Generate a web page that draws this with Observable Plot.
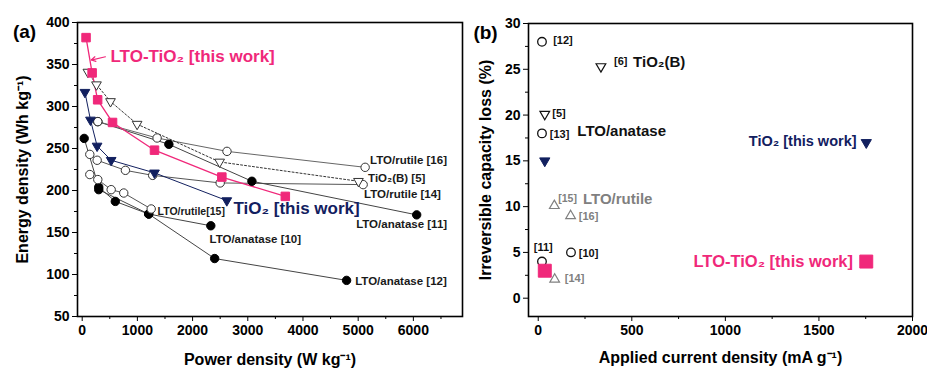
<!DOCTYPE html>
<html><head><meta charset="utf-8">
<script src="https://cdn.jsdelivr.net/npm/d3@7"></script>
<script src="https://cdn.jsdelivr.net/npm/@observablehq/plot@0.6"></script>
<style>
body{margin:0;background:#fff;}
#wrap{display:flex;width:927px;height:370px;overflow:hidden;font-family:"Liberation Sans",Arial,sans-serif;}
</style></head><body><div id="wrap"></div>
<script>
// ---------- Panel (a): energy density vs power density ----------
const pinkP = [70,180,280,550,1310,2530,3680];
const pinkE = [382,340,308,281,248,216,193];
const navyP = [50,150,270,525,1310,2620];
const navyE = [317,284,253,236,221,188];
const tiobP = [103,259,513,995,2490,5005];
const tiobE = [341,326,306,279,234,211];
const r16P = [283,1357,2623,5126];
const r16E = [282,262.5,246.6,227.6];
const r14P = [138,271,783,1277,2500,5090];
const r14E = [243,236,224,218,209,207];
const r15P = [138,283,525,753,1250];
const r15E = [219,213,201,197,178];
const a11P = [283,1570,3075,6060];
const a11E = [282,255,211,171];
const a10P = [36,300,600,1205,2330];
const a10E = [262,204,187,172,158];
const a12P = [300,1205,2400,4790];
const a12E = [201,172,119,93];
const xTicksA = [0,1000,2000,3000,4000,5000,6000];
const xMinorA = [500,1500,2500,3500,4500,5500,6500];
const yTicksA = [50,100,150,200,250,300,350,400];
const yMinorA = [75,125,175,225,275,325,375];
const labelsA = [
  {t:"LTO/rutile [16]", x:5216, y:235.5, fs:11.5},
  {t:"TiO\u2082(B) [5]", x:5180, y:214, fs:11.5},
  {t:"LTO/rutile [14]", x:5106, y:196, fs:11.5},
  {t:"LTO/anatase [11]", x:4963, y:159.4, fs:11.5},
  {t:"LTO/anatase [10]", x:2306, y:142.4, fs:11.5},
  {t:"LTO/anatase [12]", x:4945, y:92, fs:11.5},
  {t:"LTO/rutile[15]", x:1366, y:175, fs:10.5}
];
const pinkLabelA = {t:"LTO-TiO\u2082 [this work]", x:512, y:359};
const navyLabelA = {t:"TiO\u2082 [this work]", x:2740, y:179};
const arrowA = [{x1:421, y1:359.2, x2:165, y2:355.3}];

// ---------- Panel (b): irreversible capacity loss ----------
const circX = [20,20,20,175];
const circY = [28,18,4,5];
const openDownX = [335,35];
const openDownY = [25.3,20.1];
const grayUpX = [86,173,88];
const grayUpY = [10.1,9.0,2.05];
const navyB_X = [35,1753];
const navyB_Y = [15,17];
const pinkB_X = [35,1753];
const pinkB_Y = [3,4];
const xTicksB = [0,500,1000,1500,2000];
const xMinorB = [250,750,1250,1750];
const yTicksB = [0,5,10,15,20,25,30];
const yMinorB = [2.5,7.5,12.5,17.5,22.5,27.5];
const labelsB = [
  {t:"[12]", x:80, y:28.2, fs:11, c:"#111", a:"start"},
  {t:"[6]", x:405, y:25.8, fs:11, c:"#111", a:"start"},
  {t:"TiO\u2082(B)", x:507, y:25.8, fs:15, c:"#111", a:"start"},
  {t:"[5]", x:75, y:20.2, fs:11, c:"#111", a:"start"},
  {t:"[13]", x:62, y:17.9, fs:11, c:"#111", a:"start"},
  {t:"LTO/anatase", x:209, y:18.2, fs:15, c:"#111", a:"start"},
  {t:"[15]", x:107, y:10.9, fs:10.5, c:"#808080", a:"start"},
  {t:"LTO/rutile", x:239, y:10.8, fs:15, c:"#808080", a:"start"},
  {t:"[16]", x:217, y:8.9, fs:11, c:"#808080", a:"start"},
  {t:"[11]", x:27, y:5.5, fs:11, c:"#111", a:"middle"},
  {t:"[10]", x:217, y:4.9, fs:11, c:"#111", a:"start"},
  {t:"[14]", x:142, y:2.2, fs:11, c:"#808080", a:"start"},
  {t:"TiO\u2082 [this work]", x:1701, y:17.1, fs:14.5, c:"#12205f", a:"end"},
  {t:"LTO-TiO\u2082 [this work]", x:1682, y:4.0, fs:16.5, c:"#f0287a", a:"end"}
];

const PINK = "#f0287a", NAVY = "#12205f", GRAY = "#808080";
const FONT = "'Liberation Sans', Arial, sans-serif";
const fmt = d3.format("d");

const triDown = {draw(ctx, size){const s3=Math.sqrt(3);const y=-Math.sqrt(size/(s3*3));ctx.moveTo(0,-y*2);ctx.lineTo(-s3*y,y);ctx.lineTo(s3*y,y);ctx.closePath();}};
const triUp = {draw(ctx, size){const s3=Math.sqrt(3);const y=-Math.sqrt(size/(s3*3));ctx.moveTo(0,y*2);ctx.lineTo(-s3*y,-y);ctx.lineTo(s3*y,-y);ctx.closePath();}};

const zip = (xs, ys) => xs.map((x,i) => ({x, y: ys[i]}));

function axesMarks(xT, xM, yT, yM){
  return [
    Plot.axisX({ticks: xT, tickSize: 5, tickPadding: 4, tickFormat: fmt, fontSize: 14, fontWeight: "bold", label: null, stroke: "black"}),
    Plot.axisX({ticks: xM, tickSize: 3, tickFormat: () => "", label: null, stroke: "black"}),
    Plot.axisY({ticks: yT, tickSize: 5, tickPadding: 3, tickFormat: fmt, fontSize: 14, fontWeight: "bold", label: null, stroke: "black"}),
    Plot.axisY({ticks: yM, tickSize: 3, tickFormat: () => "", label: null, stroke: "black"}),
    Plot.frame({stroke: "black", strokeWidth: 1.6})
  ];
}

function lineSeries(xs, ys, stroke, opts = {}){
  return Plot.line(zip(xs, ys), {x: "x", y: "y", stroke, strokeWidth: 1, ...opts});
}
function dotSeries(xs, ys, symbol, r, fill, stroke, sw = 1){
  return Plot.dot(zip(xs, ys), {x: "x", y: "y", symbol, r, fill, stroke, strokeWidth: sw});
}
function centered(label, opts){
  return Plot.text([label], {textAnchor: "middle", lineAnchor: "middle", fontWeight: "bold", fill: "black", ...opts});
}

const plotA = Plot.plot({
  width: 470, height: 370,
  marginLeft: 77, marginRight: 8, marginTop: 22, marginBottom: 54,
  x: {domain: [-85, 6890]},
  y: {domain: [50, 400]},
  style: {fontFamily: FONT, color: "black", background: "white", overflow: "visible"},
  marks: [
    lineSeries(a12P, a12E, "#444"),
    lineSeries(a10P, a10E, "#444"),
    lineSeries(r15P, r15E, "#555"),
    lineSeries(r14P, r14E, "#555"),
    lineSeries(a11P, a11E, "#444"),
    lineSeries(r16P, r16E, "#666"),
    lineSeries(tiobP, tiobE, "#333", {strokeDasharray: "2,2"}),
    lineSeries(navyP, navyE, NAVY),
    lineSeries(pinkP, pinkE, PINK, {strokeWidth: 1.3}),
    dotSeries(a12P, a12E, "circle", 4.2, "black", "black"),
    dotSeries(a10P, a10E, "circle", 4.2, "black", "black"),
    dotSeries(a11P, a11E, "circle", 4.2, "black", "black"),
    dotSeries(r15P, r15E, "circle", 4.2, "white", "#333"),
    dotSeries(r14P, r14E, "circle", 4.2, "white", "#333"),
    dotSeries(r16P, r16E, "circle", 4.2, "white", "#333"),
    dotSeries(tiobP, tiobE, triDown, 3.6, "white", "#333"),
    dotSeries(navyP, navyE, triDown, 3.6, NAVY, NAVY),
    dotSeries(pinkP, pinkE, "square", 4.8, PINK, PINK),
    Plot.arrow(arrowA, {x1: "x1", y1: "y1", x2: "x2", y2: "y2", stroke: PINK, strokeWidth: 1.2, headLength: 6}),
    Plot.text(labelsA, {x: "x", y: "y", text: "t", fontSize: d => d.fs, fontWeight: "bold", fill: "#1a1a1a", textAnchor: "start"}),
    Plot.text([pinkLabelA], {x: "x", y: "y", text: "t", fontSize: 17, fontWeight: "bold", fill: PINK, textAnchor: "start"}),
    Plot.text([navyLabelA], {x: "x", y: "y", text: "t", fontSize: 17, fontWeight: "bold", fill: NAVY, textAnchor: "start"}),
    ...axesMarks(xTicksA, xMinorA, yTicksA, yMinorA),
    centered("Energy density (Wh kg\u207B\u00B9)", {frameAnchor: "left", dx: -55, rotate: -90, fontSize: 16}),
    centered("Power density (W kg\u207B\u00B9)", {frameAnchor: "bottom", dy: 43, fontSize: 16}),
    centered("(a)", {frameAnchor: "top-left", dx: -53, dy: 9, fontSize: 19})
  ]
});

const anchorsB = ["start", "middle", "end"];
const plotB = Plot.plot({
  width: 457, height: 370,
  marginLeft: 58, marginRight: 15, marginTop: 23, marginBottom: 54,
  x: {domain: [-52, 2000]},
  y: {domain: [-2, 30]},
  style: {fontFamily: FONT, color: "black", background: "white", overflow: "visible"},
  marks: [
    dotSeries(circX, circY, "circle", 4.3, "white", "#111", 1.3),
    dotSeries(openDownX, openDownY, triDown, 3.6, "white", "#111", 1.2),
    dotSeries(grayUpX, grayUpY, triUp, 3.6, "white", GRAY, 1.2),
    dotSeries(navyB_X, navyB_Y, triDown, 3.8, NAVY, NAVY),
    dotSeries(pinkB_X, pinkB_Y, "square", 7.3, PINK, PINK),
    ...anchorsB.map(a => Plot.text(labelsB.filter(d => d.a === a), {x: "x", y: "y", text: "t", fontSize: d => d.fs, fontWeight: "bold", fill: d => d.c, textAnchor: a})),
    ...axesMarks(xTicksB, xMinorB, yTicksB, yMinorB),
    centered("Irreversible capacity loss (%)", {frameAnchor: "left", dx: -43, rotate: -90, fontSize: 16}),
    centered("Applied current density (mA g\u207B\u00B9)", {frameAnchor: "bottom", dy: 41, fontSize: 16}),
    centered("(b)", {frameAnchor: "top-left", dx: -43, dy: 9.5, fontSize: 19})
  ]
});

const wrap = document.getElementById("wrap");
wrap.appendChild(plotA);
wrap.appendChild(plotB);
</script>
</body></html>
